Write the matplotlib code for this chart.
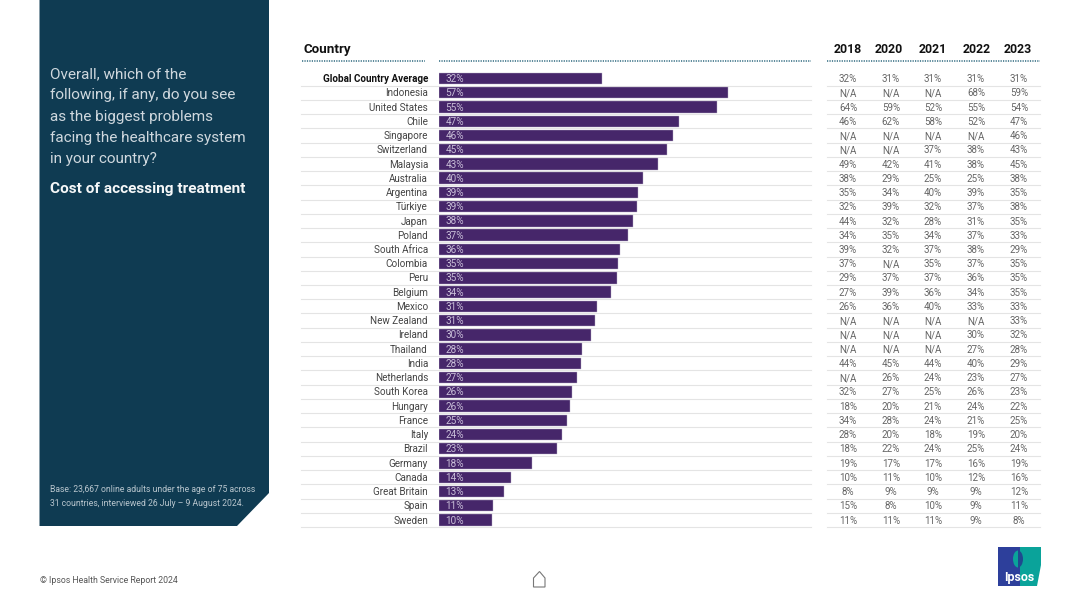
import matplotlib
matplotlib.use('Agg')
import matplotlib.pyplot as plt
from matplotlib.patches import Polygon, Rectangle, Ellipse

plt.rcParams['font.family'] = ['Roboto', 'DejaVu Sans']

countries = ['Global Country Average', 'Indonesia', 'United States', 'Chile', 'Singapore',
             'Switzerland', 'Malaysia', 'Australia', 'Argentina', 'Türkiye', 'Japan', 'Poland',
             'South Africa', 'Colombia', 'Peru', 'Belgium', 'Mexico', 'New Zealand', 'Ireland',
             'Thailand', 'India', 'Netherlands', 'South Korea', 'Hungary', 'France', 'Italy',
             'Brazil', 'Germany', 'Canada', 'Great Britain', 'Spain', 'Sweden']
bar_values = [32.1, 57.0, 54.8, 47.3, 46.2, 45.0, 43.2, 40.2, 39.2, 39.0, 38.3, 37.3, 35.7, 35.4,
              35.1, 33.9, 31.2, 30.8, 30.0, 28.2, 28.0, 27.2, 26.2, 25.9, 25.2, 24.3, 23.3, 18.3,
              14.2, 12.9, 10.7, 10.4]
bar_labels = ['32%', '57%', '55%', '47%', '46%', '45%', '43%', '40%', '39%', '39%', '38%', '37%',
              '36%', '35%', '35%', '34%', '31%', '31%', '30%', '28%', '28%', '27%', '26%', '26%',
              '25%', '24%', '23%', '18%', '14%', '13%', '11%', '10%']

years = ['2018', '2020', '2021', '2022', '2023']
y2018 = ['32%', 'N/A', '64%', '46%', 'N/A', 'N/A', '49%', '38%', '35%', '32%', '44%', '34%', '39%',
         '37%', '29%', '27%', '26%', 'N/A', 'N/A', 'N/A', '44%', 'N/A', '32%', '18%', '34%', '28%',
         '18%', '19%', '10%', '8%', '15%', '11%']
y2020 = ['31%', 'N/A', '59%', '62%', 'N/A', 'N/A', '42%', '29%', '34%', '39%', '32%', '35%', '32%',
         'N/A', '37%', '39%', '36%', 'N/A', 'N/A', 'N/A', '45%', '26%', '27%', '20%', '28%', '20%',
         '22%', '17%', '11%', '9%', '8%', '11%']
y2021 = ['31%', 'N/A', '52%', '58%', 'N/A', '37%', '41%', '25%', '40%', '32%', '28%', '34%', '37%',
         '35%', '37%', '36%', '40%', 'N/A', 'N/A', 'N/A', '44%', '24%', '25%', '21%', '24%', '18%',
         '24%', '17%', '10%', '9%', '10%', '11%']
y2022 = ['31%', '68%', '55%', '52%', 'N/A', '38%', '38%', '25%', '39%', '37%', '31%', '37%', '38%',
         '37%', '36%', '34%', '33%', 'N/A', '30%', '27%', '40%', '23%', '26%', '24%', '21%', '19%',
         '25%', '16%', '12%', '9%', '9%', '9%']
y2023 = ['31%', '59%', '54%', '47%', '46%', '43%', '45%', '38%', '35%', '38%', '35%', '33%', '29%',
         '35%', '35%', '35%', '33%', '33%', '32%', '28%', '29%', '27%', '23%', '22%', '25%', '20%',
         '24%', '19%', '16%', '12%', '11%', '8%']
table_columns = [y2018, y2020, y2021, y2022, y2023]

question = ['Overall, which of the', 'following, if any, do you see', 'as the biggest problems',
            'facing the healthcare system', 'in your country?']
subtitle = 'Cost of accessing treatment'
base_note = ['Base: 23,667 online adults under the age of 75 across',
             '31 countries, interviewed 26 July – 9 August 2024.']
footer = '© Ipsos Health Service Report 2024'

W, H = 1080, 607
PANEL = '#0f3b52'
BAR = '#46266a'
GREY = '#e4e4e4'
DOTS = '#2f6a80'

fig = plt.figure(figsize=(W / 100, H / 100), dpi=100)

# page axes, units are pixels of the slide
page = fig.add_axes([0, 0, 1, 1])
page.set_xlim(0, W)
page.set_ylim(H, 0)
page.axis('off')

page.add_patch(Polygon([(39.5, 0), (269, 0), (269, 493), (237, 526), (39.5, 526)],
                       closed=True, fc=PANEL, ec='none'))
for i, line in enumerate(question):
    page.text(50, 74 + i * 21.3, line, color='#cfd8de', fontsize=11, va='center', ha='left')
page.text(50, 188.5, subtitle, color='#f5f7f8', fontsize=11.1, fontweight='bold', va='center')
for i, line in enumerate(base_note):
    page.text(49.5, 490 + i * 13, line, color='#b9c6ce', fontsize=6.2, va='center')
page.text(40, 580.5, footer, color='#555555', fontsize=6.3, va='center')

# row geometry
row0 = 78.5
step = (520.0 - row0) / 31

for i in range(len(countries)):
    y = row0 + i * step + step / 2
    page.plot([301, 811], [y, y], color=GREY, lw=0.8, zorder=1)
    page.plot([827, 1040], [y, y], color=GREY, lw=0.8, zorder=1)

for x0, x1 in [(302, 425), (439, 811), (827, 1040)]:
    page.plot([x0, x1], [61, 61], color=DOTS, lw=1.1, ls=(0, (0.8, 0.8)), zorder=1)

page.text(303, 49.5, 'Country', fontsize=9.6, fontweight='bold', color='#111111', va='center')
year_x = [848, 889, 933, 977, 1018]
cell_x = [848, 891, 933, 976, 1019]
for x, year in zip(year_x, years):
    page.text(x, 49.5, year, fontsize=8.8, fontweight='bold', color='#111111', va='center', ha='center')

for i, name in enumerate(countries):
    y = row0 + i * step + 0.6
    weight = 'bold' if i == 0 else 'normal'
    page.text(428, y, name, fontsize=7.1, color='#444444' if i else '#111111', fontweight=weight,
              ha='right', va='center')
    for x, col in zip(cell_x, table_columns):
        page.text(x, y, col[i], fontsize=7, color='#666666', ha='center', va='center')

# home icon
page.add_patch(Polygon([(533.5, 587), (533.5, 578), (539.5, 571.5), (545, 578), (545, 587)],
                       closed=True, fc='none', ec='#777777', lw=0.8))

# logo
page.add_patch(Rectangle((998, 547), 22, 39, fc='#2d3f9b', ec='none'))
page.add_patch(Polygon([(1020, 547), (1041, 547), (1041, 565), (1037, 586), (1020, 586)],
                       closed=True, fc='#0aa39a', ec='none'))
head_l = page.add_patch(Ellipse((1018, 559), 10, 17, fc='#0aa39a', ec='none'))
head_l.set_clip_path(Rectangle((1000, 540), 18, 40, transform=page.transData))
head_r = page.add_patch(Ellipse((1018, 559), 10, 17, fc='#1f4a8f', ec='none'))
head_r.set_clip_path(Rectangle((1018, 540), 12, 40, transform=page.transData))
page.text(1019.5, 577.5, 'Ipsos', color='white', fontsize=9, fontweight='bold', ha='center', va='center')

# bar axes, lined up with the rows: x runs 439..811 px at 5.07 px per point
bar_ax = fig.add_axes([439 / W, 1 - (row0 + 31.5 * step) / H, (811 - 439) / W, 32 * step / H])
bar_ax.patch.set_alpha(0)
bar_ax.barh(range(len(bar_values)), bar_values, height=0.8, color=BAR, edgecolor='#b9aec8', linewidth=0.3)
bar_ax.set_xlim(0, (811 - 439) / 5.07)
bar_ax.set_ylim(len(bar_values) - 0.5, -0.5)
bar_ax.axis('off')
for i, label in enumerate(bar_labels):
    bar_ax.text(1.25, i + 0.04, label, color='#c9bfd8', fontsize=7.2, va='center', ha='left')

fig.savefig('out.png', dpi=100)
